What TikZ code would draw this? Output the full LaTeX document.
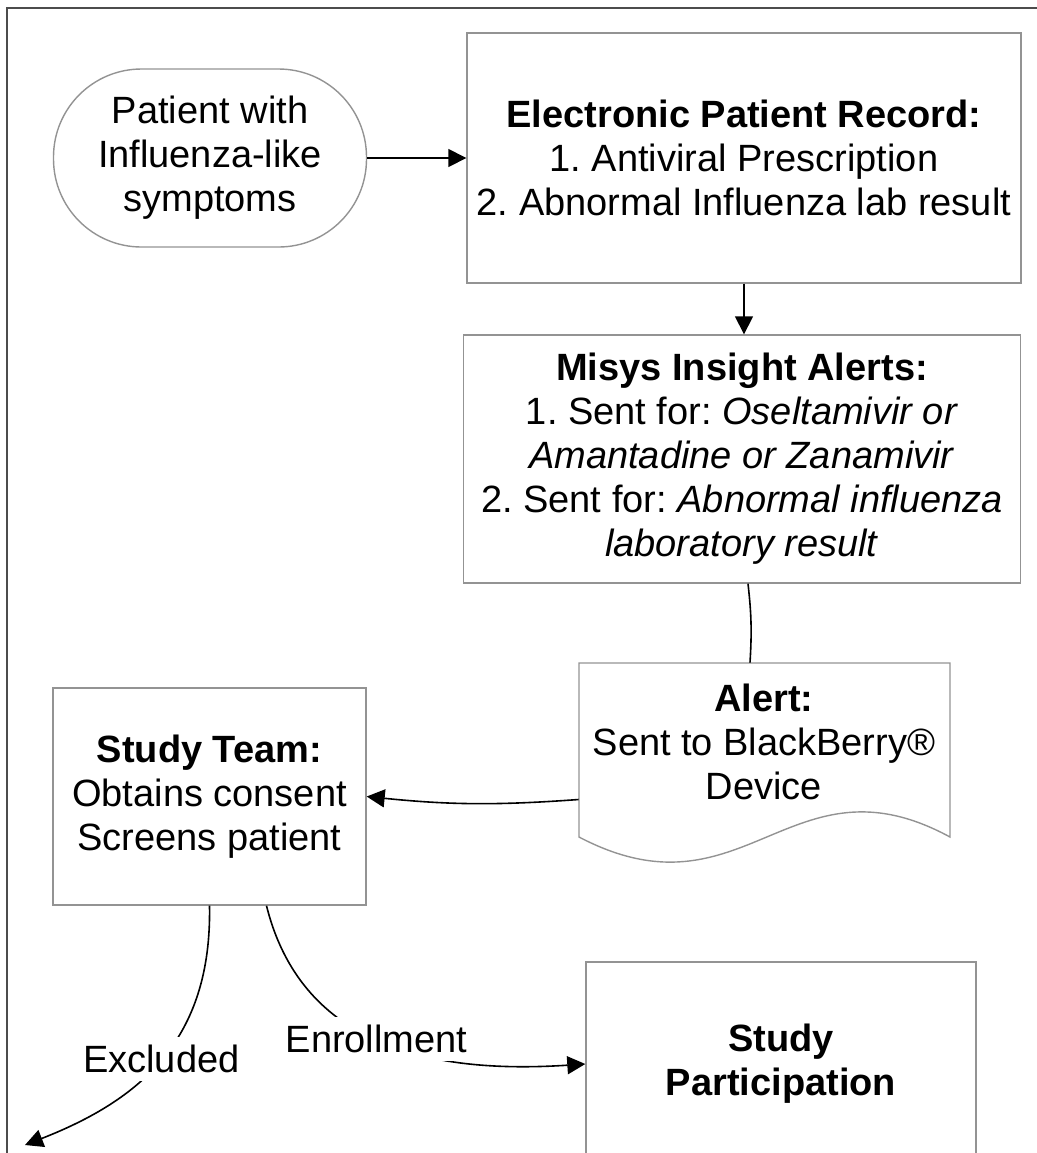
\documentclass[tikz,border=0pt]{standalone}
\usepackage{fontspec}
\setmainfont{Liberation Sans}
\frenchspacing
\usetikzlibrary{arrows.meta,calc}
\begin{document}
\begin{tikzpicture}[x=0.5pt,y=-0.5pt,
        every node/.style={font=\fontsize{19}{22}\selectfont, align=center},
        box/.style={draw=gray!85, line width=0.7pt, inner sep=0pt},
        arr/.style={-{Triangle[length=9pt,width=9pt]}, line width=0.8pt},
        lbl/.style={fill=white, inner sep=4pt}]
        \path[use as bounding box, clip] (0,0) rectangle (1037,1153);
        \draw[line width=1pt, black!70] (7,1200) -- (7,8) -- (1100,8);
        \draw (210,158) node[box, rounded corners=44pt, minimum width=156.5pt, minimum height=89pt](patient){Patient with\\Influenza-like\\symptoms};
        \draw (744,158) node[box, minimum width=277pt, minimum height=125pt](epr){\textbf{Electronic Patient Record:}\\1. Antiviral Prescription\\2. Abnormal Influenza lab result};
        \draw (742,459) node[box, minimum width=278.5pt, minimum height=124pt](misys){\textbf{Misys Insight Alerts:}\\1. Sent for: \textit{Oseltamivir or}\\\textit{Amantadine or Zanamivir}\\2. Sent for: \textit{Abnormal influenza}\\\textit{laboratory result}};
        \draw (764,742) node[minimum width=185pt, minimum height=79pt, inner sep=0pt](alert){\textbf{Alert:}\\Sent to BlackBerry®\\Device};
        \draw[draw=gray!85, line width=0.7pt] ($(alert.center)+(-185,-79)$) -- ($(alert.center)+(186,-79)$) -- ($(alert.center)+(186,95)$)
            .. controls ($(alert.center)+(26,8)$) and ($(alert.center)+(-19,182)$) .. ($(alert.center)+(-185,95)$) -- cycle;
        \draw (209.5,796.5) node[box, minimum width=156.5pt, minimum height=108.5pt](team){\textbf{Study Team:}\\Obtains consent\\Screens patient};
        \draw (781,1064) node[box, minimum width=195pt, minimum height=102pt](part){\textbf{Study}\\\textbf{Participation}};
        \coordinate (excl) at (25,1145);
        \draw[arr] (patient) -- (epr);
        \draw[arr] (epr.south) -- (epr.south |- misys.north);
        \draw[line width=0.8pt] ([xshift=3pt]misys.south) to[bend left=5] ([xshift=-7pt]alert.north);
        \draw[arr] ([yshift=-1.5pt]alert.west |- team.east) to[bend left=5] (team.east);
        \draw[arr] (team.south) .. controls (212,1040) and (140,1100) .. (excl) node[pos=0.5, lbl]{Excluded};
        \draw[arr] ([xshift=28.5pt]team.south) .. controls (300,1040) and (420,1075) .. (part.west) node[pos=0.5, lbl]{Enrollment};
    \end{tikzpicture}
\end{document}
